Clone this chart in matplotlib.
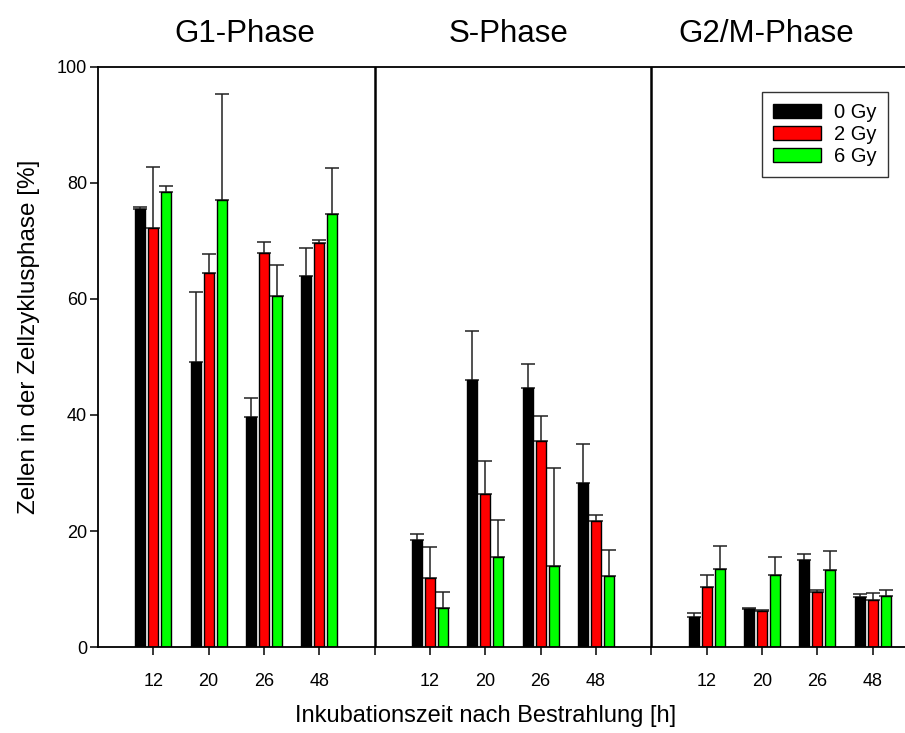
import matplotlib
matplotlib.use("Agg")
import matplotlib.pyplot as plt
import numpy as np

plt.rcParams['font.family'] = ['Liberation Sans', 'DejaVu Sans']

phases = ['G1-Phase', 'S-Phase', 'G2/M-Phase']
hours = ['12', '20', '26', '48']
doses = ['0 Gy', '2 Gy', '6 Gy']
colors = ['#000000', '#ff0000', '#00ff00']

# means per dose, phases concatenated (G1, S, G2/M) x hours
mean_0gy = [75.5, 49.1, 39.7, 63.9, 18.5, 46.0, 44.6, 28.3, 5.1, 6.6, 15.0, 8.6]
mean_2gy = [72.3, 64.5, 68.0, 69.7, 11.9, 26.4, 35.5, 21.8, 10.3, 6.2, 9.5, 8.1]
mean_6gy = [78.5, 77.0, 60.6, 74.6, 6.8, 15.6, 14.0, 12.2, 13.4, 12.4, 13.3, 8.8]
# standard deviations (upper error only)
err_0gy = [0.4, 12.1, 3.3, 4.9, 1.0, 8.5, 4.2, 6.7, 0.7, 0.1, 1.0, 0.5]
err_2gy = [10.4, 3.3, 1.9, 0.4, 5.3, 5.6, 4.3, 1.0, 2.2, 0.2, 0.3, 1.2]
err_6gy = [1.0, 18.3, 5.2, 7.9, 2.6, 6.3, 16.9, 4.5, 4.0, 3.2, 3.2, 1.0]

means = [mean_0gy, mean_2gy, mean_6gy]
errs = [err_0gy, err_2gy, err_6gy]

# x positions: 4 groups per phase, a gap slot between phases
pos = np.array([p * 5 + h + 1 for p in range(3) for h in range(4)], dtype=float)

fig = plt.figure(figsize=(9.05, 7.33), dpi=100)
ax = fig.add_axes([98 / 905, 86 / 733, 830 / 905, 580 / 733])

w = 0.18
offs = [-0.235, 0.0, 0.235]
for m, e, c, o, lab in zip(means, errs, colors, offs, doses):
    ax.bar(pos + o, m, width=w, color=c, edgecolor='black', linewidth=1.0, label=lab, zorder=2)
    ax.errorbar(pos + o, m, yerr=[np.zeros(len(e)), e], fmt='none', ecolor='#222222',
                elinewidth=1.1, capsize=4.7, capthick=1.1, zorder=1)

for xb in [5, 10]:
    ax.axvline(xb, color='black', lw=1.8, zorder=3)

ax.set_xlim(0, 15)
ax.set_ylim(0, 100)
ax.set_yticks([0, 20, 40, 60, 80, 100])
ax.set_xticks(list(pos) + [5, 10])
ax.set_xticklabels(hours * 3 + ['', ''])
ax.tick_params(axis='both', labelsize=13, width=1.1, length=6, direction='out')
ax.tick_params(axis='x', pad=13)
ax.tick_params(axis='y', pad=2)
for s in ax.spines.values():
    s.set_linewidth(1.3)

ax.set_xlabel('Inkubationszeit nach Bestrahlung [h]', fontsize=17)
ax.xaxis.set_label_coords(0.467, -0.1)
ax.set_ylabel('Zellen in der Zellzyklusphase [%]', fontsize=17.5)
ax.yaxis.set_label_coords(-0.070, 0.535)

title_x = [2.657, 7.42, 12.08]
for tx, t in zip(title_x, phases):
    ax.text(tx, 104.26, t, ha='center', va='baseline', fontsize=22.5)

leg = ax.legend(loc='upper right', bbox_to_anchor=(0.952, 0.957), fontsize=14.5,
                handlelength=2.39, handleheight=0.65, handletextpad=0.65,
                frameon=True, fancybox=False, edgecolor='black',
                borderpad=0.55, labelspacing=0.15, borderaxespad=0)
leg.get_frame().set_linewidth(1.0)

fig.savefig('out.png', dpi=100)
